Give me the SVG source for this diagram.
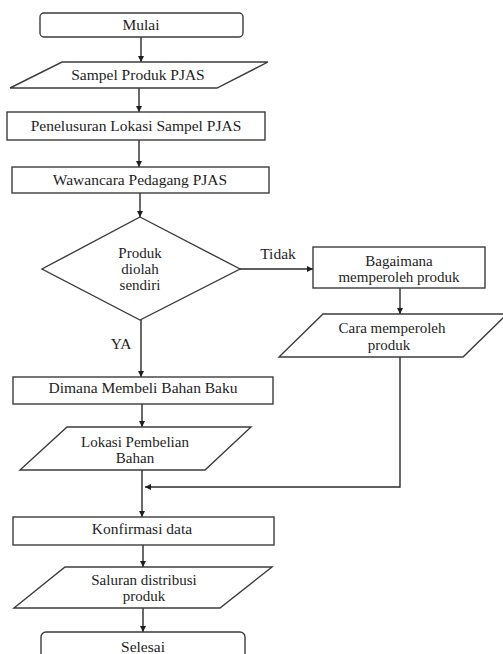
<svg xmlns="http://www.w3.org/2000/svg" width="503" height="654" viewBox="0 0 503 654">
<style>
.s{fill:#fff;stroke:#3c3c3c;stroke-width:1.4}
.c{fill:none;stroke:#2a2a2a;stroke-width:1.4}
.t{font-family:"Liberation Serif","DejaVu Serif","Times New Roman",serif;font-size:15.5px;fill:#1e1e1e;text-anchor:middle}
.m{font-size:15px}
</style>
<defs>
<marker id="ah" markerUnits="userSpaceOnUse" markerWidth="8" markerHeight="8" refX="6" refY="3" orient="auto">
<path d="M0,0 L6,3 L0,6 Z" fill="#1e1e1e"/>
</marker>
</defs>
<rect width="503" height="654" fill="#fff"/>
<g id="connectors">
<line class="c" x1="141" y1="37" x2="141" y2="62" marker-end="url(#ah)"/>
<line class="c" x1="139" y1="88" x2="139" y2="112" marker-end="url(#ah)"/>
<line class="c" x1="139" y1="140" x2="139" y2="167" marker-end="url(#ah)"/>
<line class="c" x1="140" y1="193" x2="140" y2="217" marker-end="url(#ah)"/>
<line class="c" x1="240" y1="269" x2="313" y2="269" marker-end="url(#ah)"/>
<line class="c" x1="400" y1="288" x2="400" y2="314" marker-end="url(#ah)"/>
<polyline class="c" points="400,357 400,487 145,487" marker-end="url(#ah)"/>
<line class="c" x1="141" y1="320" x2="141" y2="377" marker-end="url(#ah)"/>
<line class="c" x1="142" y1="404" x2="142" y2="427" marker-end="url(#ah)"/>
<line class="c" x1="142" y1="470" x2="142" y2="517" marker-end="url(#ah)"/>
<line class="c" x1="143" y1="545" x2="143" y2="567" marker-end="url(#ah)"/>
<line class="c" x1="143" y1="608" x2="143" y2="632" marker-end="url(#ah)"/>
<text class="t" font-family="Liberation Serif, serif" x="278" y="259">Tidak</text>
<text class="t" font-family="Liberation Serif, serif" x="121" y="349">YA</text>
</g>
<g id="mulai">
<rect class="s" x="40" y="13" width="203" height="24" rx="4"/>
<text class="t" font-family="Liberation Serif, serif" x="141" y="30">Mulai</text>
</g>
<g id="sampel">
<polygon class="s" points="62,62 268,62 217,88 10,88"/>
<text class="t" font-family="Liberation Serif, serif" x="138" y="80">Sampel Produk PJAS</text>
</g>
<g id="penelusuran">
<rect class="s" x="7" y="112" width="258" height="28"/>
<text class="t" font-family="Liberation Serif, serif" x="136" y="131">Penelusuran Lokasi Sampel PJAS</text>
</g>
<g id="wawancara">
<rect class="s" x="12" y="167" width="257" height="26"/>
<text class="t" font-family="Liberation Serif, serif" x="140" y="185">Wawancara Pedagang PJAS</text>
</g>
<g id="diolah">
<polygon class="s" points="140,217 240,269 140,320 42,269"/>
<text class="t m" font-family="Liberation Serif, serif" x="140" y="257.5">Produk</text>
<text class="t m" font-family="Liberation Serif, serif" x="140" y="273.5">diolah</text>
<text class="t m" font-family="Liberation Serif, serif" x="140" y="289.5">sendiri</text>
</g>
<g id="bagaimana">
<rect class="s" x="313" y="247" width="172" height="41"/>
<text class="t m" font-family="Liberation Serif, serif" x="399" y="266">Bagaimana</text>
<text class="t m" font-family="Liberation Serif, serif" x="399" y="282">memperoleh produk</text>
</g>
<g id="cara">
<polygon class="s" points="323,314 507,314 463,357 279,357"/>
<text class="t m" font-family="Liberation Serif, serif" x="392" y="333">Cara memperoleh</text>
<text class="t m" font-family="Liberation Serif, serif" x="389" y="349.5">produk</text>
</g>
<g id="dimana">
<rect class="s" x="13" y="377" width="260" height="27"/>
<text class="t" font-family="Liberation Serif, serif" x="143" y="393">Dimana Membeli Bahan Baku</text>
</g>
<g id="lokasi">
<polygon class="s" points="67,427 251,427 205,470 20,470"/>
<text class="t m" font-family="Liberation Serif, serif" x="135" y="446.5">Lokasi Pembelian</text>
<text class="t m" font-family="Liberation Serif, serif" x="135" y="463">Bahan</text>
</g>
<g id="konfirmasi">
<rect class="s" x="13" y="517" width="261" height="28"/>
<text class="t" font-family="Liberation Serif, serif" x="142" y="534">Konfirmasi data</text>
</g>
<g id="saluran">
<polygon class="s" points="65,567 272,567 220,608 14,608"/>
<text class="t m" font-family="Liberation Serif, serif" x="144" y="584.5">Saluran distribusi</text>
<text class="t m" font-family="Liberation Serif, serif" x="144" y="601">produk</text>
</g>
<g id="selesai">
<rect class="s" x="41" y="632" width="204" height="32" rx="5"/>
<text class="t" font-family="Liberation Serif, serif" x="143" y="652">Selesai</text>
</g>
</svg>
